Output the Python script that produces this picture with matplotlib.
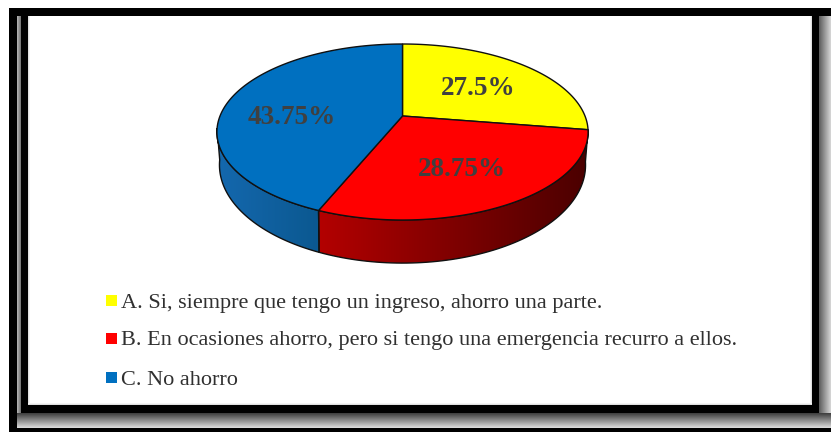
from matplotlib import pyplot as plt
from matplotlib.colors import LinearSegmentedColormap
from matplotlib.patches import Polygon, Rectangle
import numpy as np

plt.rcParams['font.family'] = ['Liberation Serif', 'DejaVu Serif']

values = [27.5, 28.75, 43.75]
value_labels = ['27.5%', '28.75%', '43.75%']
top_colors = ['#ffff00', '#ff0000', '#0070c0']
legend_labels = [
    'A. Si, siempre que tengo un ingreso, ahorro una parte.',
    'B. En ocasiones ahorro, pero si tengo una emergencia recurro a ellos.',
    'C. No ahorro',
]

# pie sits in pixel coordinates, tilted with a bit of perspective
cx = 402.5
top_rim = (182.5, 116, 64, 0.1818)
bottom_rim = (179.7, 146.4, 66.7, 0.19)


def project(angle, rim=top_rim, r=1.0, dy=0):
    # angle in degrees, clockwise from the top
    k, b, a, c = rim
    u = r * np.sin(np.radians(angle))
    v = r * np.cos(np.radians(angle))
    d = 1 + c * v
    return cx + k * u / d, (b - a * v) / d + dy


def gradient(ax, extent, colors, horizontal=True, clip=None):
    cmap = LinearSegmentedColormap.from_list('g', colors)
    ramp = np.linspace(0, 1, 256)
    ramp = ramp.reshape(1, -1) if horizontal else ramp.reshape(-1, 1)
    im = ax.imshow(ramp, cmap=cmap, extent=extent, aspect='auto', zorder=2, interpolation='bilinear')
    if clip is not None:
        im.set_clip_path(clip)


fig = plt.figure(figsize=(8.31, 4.32), dpi=100)
ax = fig.add_axes([0, 0, 1, 1])
ax.axis('off')

# frame and its shadow
black = '#000000'
gradient(ax, (819, 831, 413, 16), ['#5a5a5a', '#d8d8d8'])
gradient(ax, (17, 831, 428, 413), ['#3c3c3c', '#dedede'], horizontal=False)
gradient(ax, (17, 21, 413, 16), ['#b8b8b8', '#707070'])
gradient(ax, (28, 30, 405, 16), ['#d4d4d4', '#ffffff'])
gradient(ax, (810, 812, 405, 16), ['#ffffff', '#d4d4d4'])
gradient(ax, (28, 812, 405, 403), ['#ffffff', '#d4d4d4'], horizontal=False)
for box in [(9, 8, 822, 8), (9, 8, 8, 424), (21, 8, 7, 405), (812, 8, 7, 405), (21, 405, 798, 8), (9, 428, 822, 4)]:
    ax.add_patch(Rectangle(box[:2], box[2], box[3], color=black, lw=0, zorder=3))

# side walls, only the part that faces us
starts = np.cumsum([0] + values[:-1]) * 3.6
ends = np.cumsum(values) * 3.6
wall_colors = [None, ['#b30000', '#4a0000'], ['#1468ae', '#0b5890']]
for i in range(3):
    if wall_colors[i] is None:
        continue
    t = np.linspace(starts[i], min(ends[i], 262), 80)
    x1, y1 = project(t)
    x2, y2 = project(t, rim=bottom_rim)
    pts = np.column_stack([np.r_[x1, x2[::-1]], np.r_[y1, y2[::-1]]])
    wall = Polygon(pts, closed=True, fc='none', ec='none')
    ax.add_patch(wall)
    gradient(ax, (pts[:, 0].min(), pts[:, 0].max(), 300, 100), wall_colors[i], clip=wall)
    ax.add_patch(Polygon(pts, closed=True, fc='none', ec='#101010', lw=1.0, zorder=3))

# top face
for i in range(3):
    t = np.linspace(starts[i], ends[i], 120)
    x, y = project(t)
    x0, y0 = project(0, r=0)
    pts = np.column_stack([np.r_[x0, x], np.r_[y0, y]])
    ax.add_patch(Polygon(pts, closed=True, fc=top_colors[i], ec='#101010', lw=1.0, zorder=4))

# percentage labels
mids = (starts + ends) / 2
label_radius = [0.58, 0.6, 0.63]
label_dy = [2, 4, 12]
for i in range(3):
    x, y = project(mids[i], r=label_radius[i], dy=label_dy[i])
    ax.text(x, y, value_labels[i], ha='center', va='center', fontsize=19.5, fontweight='bold',
            color='#404040', zorder=5)

# legend
rows = [300.5, 338, 377.5]
for i in range(3):
    ax.add_patch(Rectangle((106, rows[i] - 5.5), 11, 11, color=top_colors[i], lw=0, zorder=4))
    ax.text(121, rows[i] + 7.5, legend_labels[i], ha='left', va='baseline', fontsize=16, color='#303030', zorder=5)

ax.set_xlim(0, 831)
ax.set_ylim(432, 0)
fig.savefig('out.png', dpi=100)
